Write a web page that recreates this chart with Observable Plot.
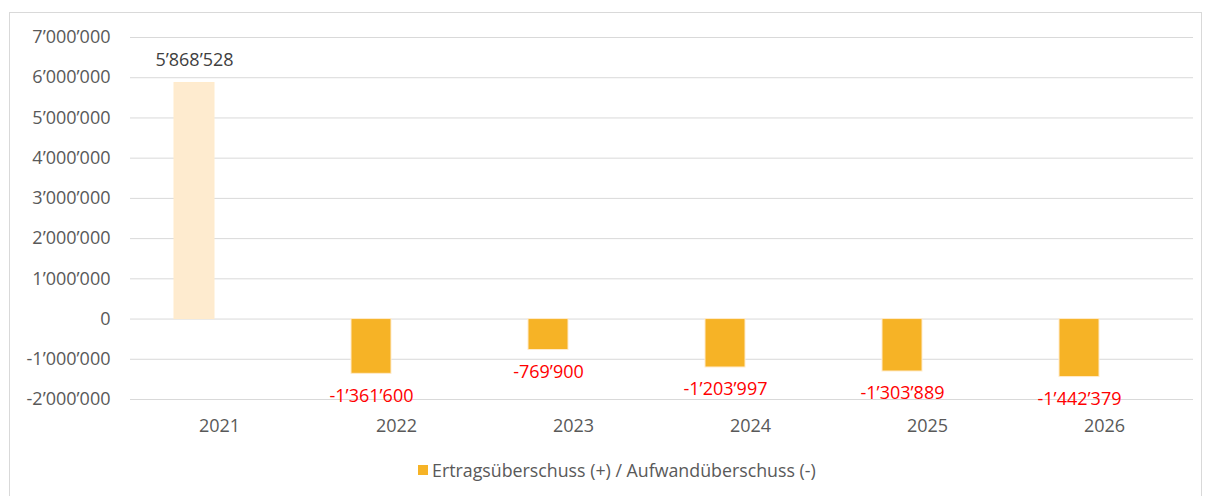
<!DOCTYPE html>
<html>
<head>
<meta charset="utf-8">
<script src="https://cdn.jsdelivr.net/npm/d3@7"></script>
<script src="https://cdn.jsdelivr.net/npm/@observablehq/plot@0.6"></script>
<style>
  html, body { margin: 0; padding: 0; background: #fff; width: 1205px; height: 496px; overflow: hidden; }
  #frame { position: absolute; left: 9px; top: 12px; width: 1193px; height: 500px; border: 1px solid #d9d9d9; box-sizing: border-box; }
  #chart { position: absolute; left: 0; top: 0; }
  #legend { position: absolute; left: 418px; top: 458px; font-family: "Open Sans", sans-serif; font-size: 17.8px; color: #595959; display: flex; align-items: center; white-space: nowrap; }
  #legend .sw { width: 10px; height: 10px; background: #F6B326; margin-right: 4px; }
</style>
</head>
<body>
<div id="frame"></div>
<div id="chart"></div>
<div id="legend"><span class="sw"></span><span>Ertragsüberschuss (+) / Aufwandüberschuss (-)</span></div>
<script>
const years = ["2021", "2022", "2023", "2024", "2025", "2026"];
const values = [5868528, -1361600, -769900, -1203997, -1303889, -1442379];
const fillColors = ["#FEEBCF", "#F6B326", "#F6B326", "#F6B326", "#F6B326", "#F6B326"];
const labelColors = ["#404040", "#FF0000", "#FF0000", "#FF0000", "#FF0000", "#FF0000"];
const yTicks = [-2000000, -1000000, 0, 1000000, 2000000, 3000000, 4000000, 5000000, 6000000, 7000000];

const locale = d3.formatLocale({decimal: ".", thousands: "\u2019", grouping: [3], currency: ["", ""], minus: "-"});
const fmt = locale.format(",d");

const data = years.map((y, i) => ({year: y, value: values[i], fill: fillColors[i], labelColor: labelColors[i]}));
const pos = data.filter(d => d.value >= 0);
const neg = data.filter(d => d.value < 0);

const chart = Plot.plot({
  width: 1205,
  height: 445,
  marginTop: 37,
  marginBottom: 46,
  marginLeft: 130,
  marginRight: 12,
  style: {fontFamily: "'Open Sans', sans-serif", fontSize: "18px", color: "#595959", background: "transparent"},
  x: {domain: years, paddingInner: 0.774, paddingOuter: 0.387, label: null},
  y: {domain: [-2000000, 7000000], label: null},
  marks: [
    Plot.gridY(yTicks, {stroke: "#d9d9d9", strokeOpacity: 1, strokeWidth: 1}),
    Plot.barY(data, {x: "year", y: "value", fill: "fill", stroke: "#FFEBCC", strokeWidth: 1, dx: -25}),
    Plot.text(pos, {x: "year", y: "value", text: d => fmt(d.value), fill: "labelColor", dx: -25, dy: -23, fontSize: 18}),
    Plot.text(neg, {x: "year", y: "value", text: d => fmt(d.value), fill: "labelColor", dx: -25, dy: 22, fontSize: 18}),
    Plot.axisX({tickSize: 0, tickPadding: 20, fontSize: 18, fill: "#595959"}),
    Plot.axisY({ticks: yTicks, tickFormat: fmt, tickSize: 0, tickPadding: 20, fontSize: 18, fill: "#595959"})
  ]
});
document.getElementById("chart").appendChild(chart);
</script>
</body>
</html>
